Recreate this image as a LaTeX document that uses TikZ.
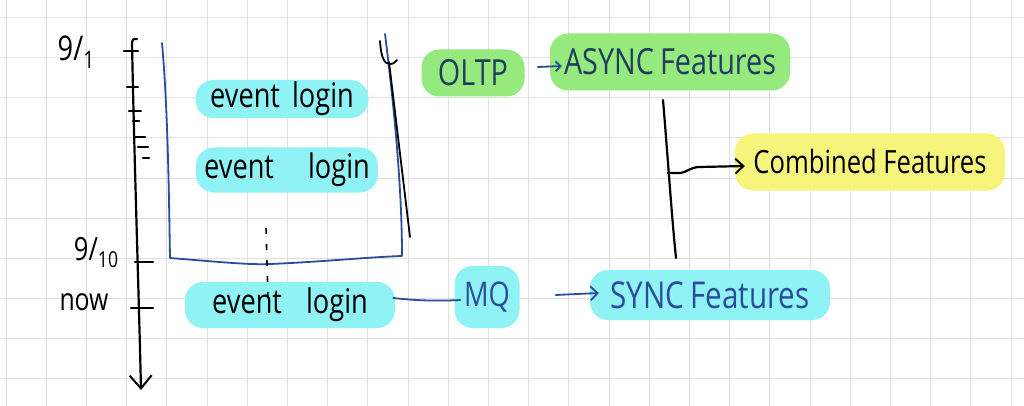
\documentclass[tikz,border=0pt]{standalone}
\usepackage{fontspec}
\setmainfont[FakeStretch=0.8]{Open Sans}
\usetikzlibrary{arrows.meta}
\definecolor{gridc}{HTML}{E0E0E0}
\definecolor{hlcyan}{HTML}{8FF2F4}
\definecolor{hlgreen}{HTML}{96E97C}
\definecolor{hlyellow}{HTML}{F6F47A}
\definecolor{inkblue}{HTML}{2B4C9B}
\definecolor{inknavy}{HTML}{1F3D5E}
\begin{document}
\begin{tikzpicture}[x=1pt,y=-1pt,
  ink/.style={line width=2.2pt,line cap=round,line join=round},
  hl/.style={rounded corners=18pt,inner sep=0pt,font=\fontsize{34}{34}\selectfont},
]
\useasboundingbox (0,0) rectangle (1024,406);
\fill[white] (0,0) rectangle (1024,406);
% grid
\foreach \k in {0,...,25} {\draw[gridc,line width=1pt] ({6+40.2*\k},0) -- ({6+40.2*\k},406);}
\foreach \k in {0,...,9} {\draw[gridc,line width=1pt] (0,{18+40*\k}) -- (1024,{18+40*\k});}

% timeline
\coordinate (tTop) at (132,42);
\coordinate (tBot) at (141,390);
\draw[ink,black,-{Straight Barb[length=13pt,width=22pt,line width=2pt]}] (tTop) .. controls (134,150) and (139,300) .. (tBot);
\draw[ink] (132,42) .. controls (133,39) .. (137,39);
\draw[ink,line width=2.8pt] (124,51) -- (138,51);
\draw[ink] (127,87) -- (138,87);
\draw[ink] (129,111) -- (141,111);
\draw[ink] (133,121) -- (139,121);
\draw[ink] (135,137) -- (145,137);
\draw[ink] (138,147) -- (148,147);
\draw[ink] (143,158) -- (149,158);
\draw[ink] (135,262) -- (153,262);
\draw[ink] (131,308) -- (153,308);

\node[font=\fontsize{34}{34}\selectfont] (l91) at (76,52) {9/\raisebox{-8pt}{\fontsize{24}{24}\selectfont 1}};
\node[font=\fontsize{32}{32}\selectfont] (l910) at (96,253) {9/\raisebox{-7pt}{\fontsize{22}{22}\selectfont 10}};
\node[font=\fontsize{31}{31}\selectfont] (lnow) at (84,302) {now};

% blue batch box
\draw[ink,inkblue,line width=1.8pt] (162,43) .. controls (168,110) and (169,200) .. (170,258)
  .. controls (220,262) and (250,265) .. (270,264) .. controls (320,262) and (370,257) .. (402,256)
  .. controls (402,180) and (392,90) .. (385,34);
% black line beside box
\draw[ink,line width=1.8pt] (380,41) .. controls (381,57) and (384,64) .. (390,64) .. controls (393,64) .. (397,60);
\draw[ink,line width=1.8pt] (389,62) -- (410,237);

% event highlights
\node[hl,fill=hlcyan,minimum width=173pt,minimum height=38pt] (ev1) at (282,99) {event\hspace{12pt}login};
\node[hl,fill=hlcyan,minimum width=182pt,minimum height=45pt] (ev2) at (287,170) {event\hspace{34pt}login};
\node[hl,fill=hlcyan,minimum width=210pt,minimum height=46pt] (ev3) at (290,305) {event\hspace{24pt}login};

% dotted separator
\coordinate (dTop) at (266,228);
\coordinate (dBot) at (268,298);
\draw[line width=1.6pt,dash pattern=on 6pt off 10pt] (dTop) -- (dBot);

% OLTP and ASYNC
\node[hl,fill=hlgreen,text=inknavy,minimum width=103pt,minimum height=47pt,font=\fontsize{36}{36}\selectfont] (oltp) at (473,73) {OLTP};
\node[hl,fill=hlgreen,text=inknavy,minimum width=240pt,minimum height=57pt,font=\fontsize{36}{36}\selectfont] (async) at (670,62) {ASYNC\hspace{6pt}Features};
\draw[ink,inkblue,line width=1.8pt,-{Straight Barb[length=5pt,width=10pt,line width=1.8pt]}] ([xshift=13pt,yshift=6pt]oltp.east) -- ([xshift=12pt,yshift=-4pt]async.west);

% combined
\node[hl,fill=hlyellow,minimum width=270pt,minimum height=57pt,font=\fontsize{32}{32}\selectfont] (comb) at (870,162) {Combined Features};
\coordinate (vTop) at (663,100);
\coordinate (vBot) at (676,258);
\coordinate (vMid) at (668,173);
\draw[ink] (vTop) .. controls (668,160) and (672,220) .. (vBot);
\draw[ink,-{Straight Barb[length=8pt,width=15pt,line width=2pt]}] (vMid) -- (680,173) .. controls (688,172) and (690,167) .. (700,167) -- ([xshift=10pt,yshift=-4pt]comb.west);

% MQ and SYNC
\node[hl,fill=hlcyan,text=inkblue,minimum width=65pt,minimum height=62pt,font=\fontsize{34}{34}\selectfont] (mq) at (487,297) {MQ};
\node[hl,fill=hlcyan,text=inkblue,minimum width=240pt,minimum height=50pt,font=\fontsize{37}{37}\selectfont] (sync) at (710,295) {SYNC\hspace{6pt}Features};
\draw[ink,inkblue,line width=1.8pt] ([xshift=-2pt,yshift=7pt]ev3.east) .. controls (420,301) and (440,301) .. ([xshift=6pt,yshift=-3pt]mq.west);
\draw[ink,inkblue,line width=1.8pt,-{Straight Barb[length=7pt,width=14pt,line width=1.8pt]}] ([xshift=36pt,yshift=2pt]mq.east) -- ([xshift=9pt,yshift=2pt]sync.west);
\end{tikzpicture}
\end{document}
